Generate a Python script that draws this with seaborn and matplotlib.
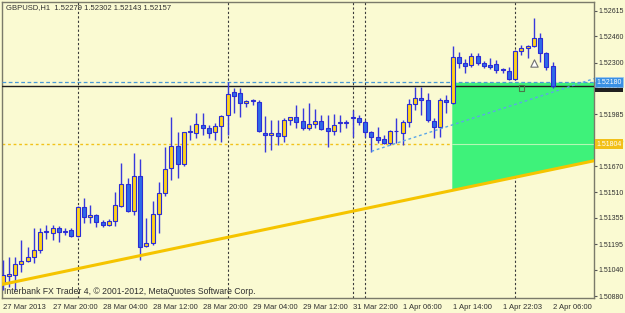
import numpy as np
import pandas as pd
import matplotlib
matplotlib.use("Agg")
import matplotlib.pyplot as plt
import seaborn as sns
from matplotlib.transforms import blended_transform_factory

# ---------------- data (GBPUSD H1) ----------------
opens = [1.50959, 1.51002, 1.51008, 1.51075, 1.51093, 1.51117, 1.51160, 1.51269, 1.51263, 1.51294,
         1.51269, 1.51281, 1.51245, 1.51421, 1.51361, 1.51373, 1.51330, 1.51312, 1.51336, 1.51427,
         1.51561, 1.51397, 1.51610, 1.51184, 1.51202, 1.51379, 1.51506, 1.51658, 1.51792, 1.51683,
         1.51877, 1.51871, 1.51920, 1.51902, 1.51877, 1.51914, 1.51981, 1.52121, 1.52115, 1.52054,
         1.52066, 1.52060, 1.51871, 1.51859, 1.51871, 1.51853, 1.51950, 1.51969, 1.51944, 1.51902,
         1.51926, 1.51944, 1.51902, 1.51883, 1.51932, 1.51932, 1.51963, 1.51963, 1.51938, 1.51877,
         1.51847, 1.51835, 1.51810, 1.51883, 1.51871, 1.51938, 1.52048, 1.52084, 1.52072, 1.51944,
         1.51908, 1.52072, 1.52054, 1.52333, 1.52297, 1.52285, 1.52340, 1.52297, 1.52285, 1.52291,
         1.52260, 1.52248, 1.52200, 1.52370, 1.52388, 1.52400, 1.52449, 1.52358, 1.52279]
highs = [1.51099, 1.51117, 1.51117, 1.51221, 1.51178, 1.51294, 1.51294, 1.51312, 1.51312, 1.51306,
         1.51294, 1.51294, 1.51427, 1.51476, 1.51434, 1.51379, 1.51342, 1.51348, 1.51512, 1.51689,
         1.51598, 1.51750, 1.51713, 1.51355, 1.51458, 1.51573, 1.51786, 1.51969, 1.51877, 1.51877,
         1.51920, 1.51993, 1.51993, 1.51920, 1.51932, 1.51981, 1.52181, 1.52145, 1.52145, 1.52072,
         1.52078, 1.52072, 1.51975, 1.51950, 1.51950, 1.51963, 1.51969, 1.52042, 1.52023, 1.52054,
         1.52017, 1.51981, 1.51981, 1.51987, 1.51981, 1.51950, 1.52011, 1.51981, 1.51950, 1.51883,
         1.51908, 1.51859, 1.51890, 1.51963, 1.51950, 1.52078, 1.52151, 1.52151, 1.52115, 1.51963,
         1.52084, 1.52102, 1.52400, 1.52364, 1.52321, 1.52358, 1.52358, 1.52309, 1.52327, 1.52315,
         1.52267, 1.52273, 1.52376, 1.52406, 1.52406, 1.52571, 1.52479, 1.52364, 1.52302]
lows = [1.50917, 1.50935, 1.50917, 1.51026, 1.51087, 1.51081, 1.51142, 1.51227, 1.51221, 1.51208,
        1.51251, 1.51239, 1.51239, 1.51324, 1.51324, 1.51300, 1.51300, 1.51306, 1.51306, 1.51421,
        1.51391, 1.51373, 1.51099, 1.51178, 1.51190, 1.51263, 1.51488, 1.51586, 1.51598, 1.51671,
        1.51829, 1.51841, 1.51859, 1.51841, 1.51829, 1.51816, 1.51859, 1.51993, 1.51969, 1.52029,
        1.52042, 1.51877, 1.51756, 1.51768, 1.51798, 1.51816, 1.51920, 1.51902, 1.51890, 1.51890,
        1.51902, 1.51890, 1.51786, 1.51859, 1.51877, 1.51902, 1.51847, 1.51920, 1.51847, 1.51756,
        1.51810, 1.51804, 1.51798, 1.51810, 1.51798, 1.51908, 1.52011, 1.51981, 1.51938, 1.51841,
        1.51847, 1.51993, 1.52048, 1.52267, 1.52236, 1.52273, 1.52285, 1.52267, 1.52260, 1.52236,
        1.52236, 1.52194, 1.52194, 1.52346, 1.52327, 1.52394, 1.52303, 1.52254, 1.52143]
closes = [1.51008, 1.51014, 1.51075, 1.51093, 1.51117, 1.51160, 1.51269, 1.51275, 1.51294, 1.51269,
          1.51275, 1.51245, 1.51421, 1.51361, 1.51373, 1.51330, 1.51312, 1.51336, 1.51434, 1.51561,
          1.51397, 1.51610, 1.51178, 1.51202, 1.51379, 1.51506, 1.51652, 1.51792, 1.51683, 1.51877,
          1.51883, 1.51926, 1.51902, 1.51871, 1.51914, 1.51975, 1.52108, 1.52096, 1.52054, 1.52066,
          1.52072, 1.51883, 1.51859, 1.51871, 1.51853, 1.51950, 1.51969, 1.51938, 1.51902, 1.51926,
          1.51944, 1.51896, 1.51883, 1.51920, 1.51938, 1.51938, 1.51966, 1.51938, 1.51877, 1.51847,
          1.51829, 1.51810, 1.51883, 1.51886, 1.51938, 1.52048, 1.52084, 1.52072, 1.51950, 1.51908,
          1.52072, 1.52060, 1.52333, 1.52297, 1.52279, 1.52340, 1.52297, 1.52279, 1.52273, 1.52254,
          1.52257, 1.52200, 1.52370, 1.52388, 1.52400, 1.52449, 1.52358, 1.52273, 1.52157]

time_tick_bars = [0, 8, 16, 24, 32, 40, 48, 56, 64, 72, 80, 88]
time_tick_labels = ["27 Mar 2013", "27 Mar 20:00", "28 Mar 04:00", "28 Mar 12:00",
                    "28 Mar 20:00", "29 Mar 04:00", "29 Mar 12:00", "31 Mar 22:00",
                    "1 Apr 06:00", "1 Apr 14:00", "1 Apr 22:03", "2 Apr 06:00"]
# 1.52140 sits behind the price boxes in the original, so it is not shown
price_ticks = [1.50880, 1.51040, 1.51195, 1.51355, 1.51510, 1.51670, 1.51820,
               1.51985, 1.52300, 1.52460, 1.52615]
day_separator_bars = [12, 36, 56, 58, 82]

support_bars = [0, 88]
support_prices = [1.50951, 1.51650]
channel_bars = [59, 88]
channel_prices = [1.51760, 1.52120]
hline_level = 1.52180
bid_level = 1.52157
dotted_level = 1.51804
zone_start_bar = 71.85
trade_bars = [85, 83]
trade_prices = [1.52297, 1.52145]

header = "GBPUSD,H1  1.52279 1.52302 1.52143 1.52157"
footer = "Interbank FX Trader 4, \u00a9 2001-2012, MetaQuotes Software Corp."

# ---------------- style ----------------
sns.set_style("white")
plt.rcParams["font.family"] = ["Liberation Sans", "DejaVu Sans"]

BG = "#fafad2"
GOLD = "#ffd21a"
BEAR = "#2f6ae6"
EDGE = "#2b2bd6"
TXT = "#303030"
FS = 5.0

df = pd.DataFrame({"bar": np.arange(len(opens)), "open": opens, "high": highs,
                   "low": lows, "close": closes})
df["bull"] = df["close"] >= df["open"]
df["bottom"] = df[["open", "close"]].min(axis=1)
df["height"] = (df["close"] - df["open"]).abs()

fig = plt.figure(figsize=(6.25, 3.13), dpi=100, facecolor=BG)
ax = fig.add_axes([2 / 625, 15.5 / 313, 592 / 625, 295.5 / 313])
ax.set_facecolor(BG)

x_left, x_right = -0.11, 94.6
y_bot, y_top = 1.50871, 1.52668
ax.set_xlim(x_left, x_right)
ax.set_ylim(y_bot, y_top)

# horizontal dotted yellow level (under the zone)
ax.axhline(dotted_level, color="#f2c21a", lw=1.0, ls=(0, (2, 2)), zorder=1)

# green zone between support trendline and horizontal level
slope = (support_prices[1] - support_prices[0]) / (support_bars[1] - support_bars[0])
zx = np.array([zone_start_bar, x_right + 1])
zy = support_prices[0] + slope * (zx - support_bars[0])
ax.fill_between(zx, zy, hline_level, color="#3ef27a", lw=0, zorder=2)
ax.plot([zone_start_bar, x_right], [dotted_level, dotted_level], color="#b4f8b4", lw=0.8, zorder=2.5)

# day separators
for b in day_separator_bars:
    ax.axvline(b, color="#3a3a3a", lw=0.8, ls=(0, (2, 2)), zorder=1.5)

# horizontal lines
ax.axhline(hline_level, color="#4a9ad8", lw=0.9, ls=(0, (3, 2)), zorder=3)
ax.axhline(bid_level, color="#1e1e1e", lw=1.0, zorder=3)

# candles
ax.vlines(df["bar"], df["low"], df["high"], color="#3838dc", lw=1.0, zorder=4)
ax.bar(df["bar"], df["height"], bottom=df["bottom"], width=0.64,
       color=np.where(df["bull"], GOLD, BEAR), edgecolor=EDGE, linewidth=0.8, zorder=5)

# support trendline (yellow) and channel line (dotted blue)
sx = np.array([x_left - 1, x_right + 1])
sy = support_prices[0] + slope * (sx - support_bars[0])
sns.lineplot(x=sx, y=sy, ax=ax, color="#f5c400", lw=2.2, zorder=6)
cslope = (channel_prices[1] - channel_prices[0]) / (channel_bars[1] - channel_bars[0])
cx = np.array([channel_bars[0], x_right + 1])
cy = channel_prices[0] + cslope * (cx - channel_bars[0])
sns.lineplot(x=cx, y=cy, ax=ax, color="#5aa6e8", lw=1.0, ls=(0, (2, 2)), zorder=6)

# trade markers
sns.scatterplot(x=[trade_bars[0]], y=[trade_prices[0]], ax=ax, marker="^", s=28,
                facecolor="white", edgecolor="#707070", linewidth=0.8, zorder=7)
sns.scatterplot(x=[trade_bars[1]], y=[trade_prices[1]], ax=ax, marker="s", s=14,
                facecolor="none", edgecolor="#4a7a4a", linewidth=0.8, zorder=7)

# axes
for s in ax.spines.values():
    s.set_color("#7a7a6a")
    s.set_linewidth(1.0)
ax.set_xticks(time_tick_bars)
ax.set_xticklabels(time_tick_labels, ha="left", fontsize=5.5, color=TXT)
ax.yaxis.tick_right()
ax.set_yticks(price_ticks)
ax.set_yticklabels([f"{p:.5f}" for p in price_ticks], fontsize=FS, color=TXT)
ax.tick_params(axis="x", direction="out", length=3, width=0.8, color="#555555", pad=1.5)
ax.tick_params(axis="y", direction="out", length=2.5, width=0.8, color="#555555", pad=1.0)
ax.set_xlabel("")
ax.set_ylabel("")

# price labels at the right
tr = blended_transform_factory(ax.transAxes, ax.transData)
ax.text(1.0045, bid_level - 0.00004, f"{bid_level:.5f}", transform=tr, fontsize=FS, color="white",
        va="center", ha="left", zorder=10, clip_on=False,
        bbox=dict(boxstyle="square,pad=0.2", fc="#202020", ec="none"))
ax.text(1.0045, hline_level, f"{hline_level:.5f}", transform=tr, fontsize=FS, color="white",
        va="center", ha="left", zorder=11, clip_on=False,
        bbox=dict(boxstyle="square,pad=0.2", fc="#3a90e4", ec="#9cc8f0", lw=0.5))
ax.text(1.0045, dotted_level, f"{dotted_level:.5f}", transform=tr, fontsize=FS, color="white",
        va="center", ha="left", zorder=11, clip_on=False,
        bbox=dict(boxstyle="square,pad=0.2", fc="#f2c018", ec="none"))

fig.text(6 / 625, 1 - 8 / 313, header, fontsize=5.5, color=TXT, va="center", ha="left")
fig.text(4 / 625, 1 - 292 / 313, footer, fontsize=6.2, color=TXT, va="center", ha="left")

fig.savefig("out.png", dpi=100, facecolor=BG)
